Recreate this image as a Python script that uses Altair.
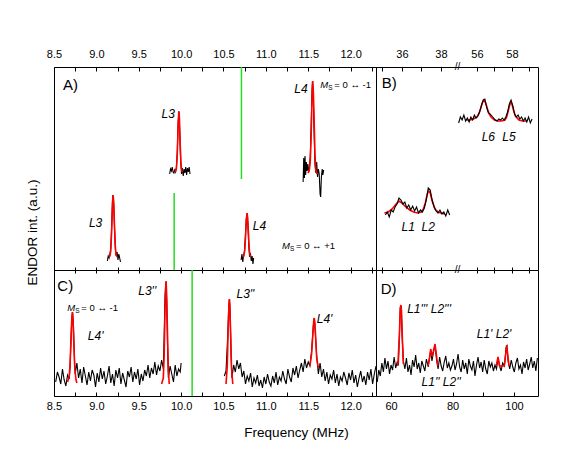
import altair as alt
import pandas as pd

FONT = "Liberation Sans"

# ---------------- data : (frequency MHz, ENDOR intensity a.u.) ----------------
# Panel A
A_BLACK = {
    "L3_low": [(9.13, 9), (9.14, 14), (9.15, 12), (9.16, 16), (9.17, 22), (9.18, 42), (9.19, 68), (9.197, 75),
               (9.205, 66), (9.215, 40), (9.225, 20), (9.235, 14), (9.245, 18), (9.255, 10), (9.265, 16),
               (9.275, 12), (9.285, 8)],
    "L3_up": [(9.865, 96), (9.875, 101), (9.885, 99), (9.895, 103), (9.905, 98), (9.915, 97), (9.925, 100),
              (9.935, 98), (9.945, 103), (9.955, 118), (9.965, 148), (9.975, 158), (9.985, 135), (9.995, 108),
              (10.005, 96), (10.015, 102), (10.025, 94), (10.035, 101), (10.045, 97), (10.055, 103),
              (10.065, 95), (10.075, 102), (10.085, 98), (10.095, 103), (10.105, 96)],
    "L4_low": [(10.708, 10), (10.718, 16), (10.728, 8), (10.738, 15), (10.748, 19), (10.758, 33), (10.768, 50),
               (10.778, 57), (10.788, 46), (10.798, 25), (10.808, 13), (10.818, 17), (10.828, 9), (10.838, 14),
               (10.848, 6), (10.856, 12)],
    "L4_up": [(11.44, 88), (11.447, 112), (11.455, 92), (11.462, 114), (11.47, 95), (11.478, 108), (11.487, 99),
              (11.496, 106), (11.505, 98), (11.515, 103), (11.525, 115), (11.535, 145), (11.545, 180),
              (11.552, 189), (11.56, 172), (11.57, 135), (11.58, 105), (11.59, 97), (11.60, 108), (11.61, 93),
              (11.62, 101), (11.63, 96), (11.64, 76), (11.647, 73), (11.655, 92), (11.665, 101), (11.673, 95),
              (11.682, 100)],
}
A_RED = {
    "L3_low": [(9.15, 13), (9.16, 14), (9.17, 19), (9.18, 38), (9.19, 66), (9.196, 75), (9.203, 70), (9.213, 46),
               (9.223, 24), (9.233, 15), (9.245, 13)],
    "L3_up": [(9.925, 98), (9.935, 99), (9.945, 102), (9.955, 116), (9.965, 145), (9.973, 159), (9.98, 152),
              (9.99, 124), (10.0, 104), (10.01, 99), (10.02, 98)],
    "L4_low": [(10.728, 13), (10.74, 14), (10.752, 20), (10.762, 36), (10.772, 52), (10.778, 57), (10.785, 53),
               (10.795, 36), (10.805, 20), (10.815, 14), (10.828, 13)],
    "L4_up": [(11.495, 97), (11.505, 98), (11.515, 101), (11.525, 110), (11.535, 135), (11.545, 172),
              (11.552, 189), (11.56, 180), (11.57, 150), (11.58, 115), (11.59, 100), (11.60, 97), (11.61, 96)],
}
A_GREEN = {"f": [10.712, 9.918], "y1": [91, 0], "y2": [203, 77]}
A_LABELS = {"f": [9.847, 11.414, 8.991, 10.924], "v": [156, 181, 47, 44], "t": ["L3", "L4", "L3", "L4"]}
A_LETTER = {"f": [8.606], "v": [185], "t": ["A)"]}
A_MS = {"f": [11.643, 11.19], "v": [185, 24], "t": ["= 0 \u2194 -1", "= 0 \u2194 +1"]}

# Panel B (broken axis 34.7-38.9 | 55-59.4)
B_BLACK = {
    "up": [(54.95, 147), (55.05, 153), (55.15, 150), (55.25, 155), (55.35, 149), (55.45, 152), (55.55, 148),
           (55.65, 153), (55.75, 150), (55.85, 155), (55.95, 152), (56.05, 154), (56.15, 158), (56.25, 164),
           (56.35, 170), (56.45, 171), (56.55, 163), (56.65, 157), (56.75, 156), (56.85, 154), (56.95, 152),
           (57.05, 150), (57.15, 149), (57.25, 151), (57.35, 150), (57.45, 152), (57.55, 150), (57.65, 153),
           (57.75, 158), (57.85, 166), (57.95, 170), (58.05, 164), (58.15, 156), (58.25, 153), (58.35, 155),
           (58.45, 151), (58.55, 153), (58.65, 149), (58.75, 152), (58.85, 148), (58.95, 153), (59.05, 147),
           (59.15, 151)],
    "low": [(35.15, 55), (35.25, 58), (35.35, 53), (35.45, 60), (35.55, 58), (35.65, 63), (35.75, 66),
            (35.85, 72), (35.95, 70), (36.05, 66), (36.15, 68), (36.25, 62), (36.35, 65), (36.45, 60),
            (36.55, 64), (36.65, 59), (36.75, 63), (36.85, 57), (36.95, 60), (37.05, 58), (37.15, 62),
            (37.25, 70), (37.35, 82), (37.45, 80), (37.55, 70), (37.65, 63), (37.75, 59), (37.85, 57),
            (37.95, 60), (38.05, 56), (38.15, 58), (38.25, 54), (38.35, 60), (38.45, 55)],
}
B_RED = {
    "up": [(55.4, 150), (55.6, 150), (55.8, 151), (56.0, 153), (56.1, 156), (56.2, 161), (56.3, 167), (56.4, 170),
           (56.5, 167), (56.6, 161), (56.7, 156), (56.8, 153), (57.0, 150), (57.2, 149), (57.4, 149), (57.6, 150),
           (57.7, 153), (57.8, 160), (57.9, 167), (58.0, 166), (58.1, 159), (58.2, 154), (58.4, 150), (58.6, 149),
           (58.8, 149)],
    "low": [(35.1, 57), (35.3, 58), (35.5, 61), (35.7, 66), (35.85, 69), (36.0, 67), (36.2, 63), (36.4, 60),
            (36.6, 58), (36.8, 57), (37.0, 58), (37.1, 61), (37.2, 67), (37.3, 76), (37.38, 79), (37.45, 77),
            (37.55, 69), (37.7, 61), (37.85, 58), (38.0, 57), (38.2, 56)],
}
B_LABELS = {"f": [56.65, 57.83, 36.32, 37.35], "v": [133, 133, 43, 43], "t": ["L6", "L5", "L1", "L2"]}
B_LETTER = {"f": [34.96], "v": [187], "t": ["B)"]}
B_BREAK = {"f": [38.85, 38.85], "v": [203, 0], "t": ["//", "//"]}

# Panel C
C_BLACK = {
    "s1": [(8.52, 14), (8.54, 24), (8.56, 19), (8.58, 12), (8.60, 27), (8.62, 16), (8.64, 10), (8.66, 21),
           (8.68, 17), (8.69, 30), (8.70, 55), (8.71, 78), (8.72, 84), (8.73, 70), (8.74, 40), (8.75, 22),
           (8.77, 33), (8.79, 18), (8.81, 27), (8.83, 13), (8.85, 29), (8.87, 20), (8.89, 11), (8.91, 24),
           (8.93, 15), (8.95, 26), (8.97, 21), (8.99, 9), (9.01, 23), (9.03, 14), (9.05, 28), (9.07, 17),
           (9.09, 25), (9.11, 12), (9.13, 20), (9.15, 30), (9.17, 13), (9.19, 22), (9.21, 10), (9.23, 26),
           (9.25, 18), (9.27, 28), (9.29, 12), (9.31, 23), (9.33, 16), (9.35, 9), (9.37, 25), (9.39, 19),
           (9.41, 29), (9.43, 14), (9.45, 24), (9.47, 17), (9.49, 27), (9.51, 11), (9.53, 22), (9.55, 15),
           (9.57, 26), (9.59, 20), (9.61, 31), (9.63, 18), (9.65, 28), (9.67, 22), (9.69, 34), (9.71, 21),
           (9.73, 30), (9.75, 25), (9.77, 36), (9.79, 27), (9.80, 60), (9.81, 100), (9.82, 114), (9.83, 95),
           (9.84, 50), (9.85, 18), (9.87, 30), (9.89, 22), (9.91, 14), (9.93, 31), (9.95, 20), (9.97, 27),
           (9.99, 24), (10.00, 33)],
    "s2": [(10.51, 20), (10.53, 25), (10.55, 60), (10.56, 85), (10.57, 97), (10.58, 80), (10.59, 40),
           (10.60, 18), (10.62, 31), (10.64, 24), (10.66, 36), (10.68, 27), (10.70, 33), (10.72, 19), (10.74, 25),
           (10.76, 12), (10.78, 20), (10.80, 15), (10.82, 23), (10.84, 9), (10.86, 18), (10.88, 13), (10.90, 21),
           (10.92, 10), (10.94, 16), (10.96, 8), (10.98, 19), (11.00, 12), (11.02, 22), (11.04, 14), (11.06, 10),
           (11.08, 20), (11.10, 13), (11.12, 24), (11.14, 11), (11.16, 19), (11.18, 15), (11.20, 25), (11.22, 17),
           (11.24, 12), (11.26, 27), (11.28, 19), (11.30, 14), (11.32, 28), (11.34, 21), (11.36, 30), (11.38, 18),
           (11.40, 26), (11.42, 33), (11.44, 24), (11.46, 37), (11.48, 28), (11.50, 34), (11.52, 30),
           (11.54, 45), (11.56, 70), (11.57, 78), (11.58, 68), (11.60, 40), (11.62, 22), (11.64, 33),
           (11.66, 19), (11.68, 27), (11.70, 15), (11.72, 24), (11.74, 12), (11.76, 21), (11.78, 17),
           (11.80, 26), (11.82, 13), (11.84, 22), (11.86, 10), (11.88, 19), (11.90, 15), (11.92, 24),
           (11.94, 18), (11.96, 11), (11.98, 23), (12.00, 16), (12.02, 26), (12.04, 13), (12.06, 21),
           (12.08, 9), (12.10, 18), (12.12, 25), (12.14, 14), (12.16, 20), (12.18, 11), (12.20, 24),
           (12.22, 16), (12.24, 27), (12.26, 12), (12.28, 22), (12.30, 30)],
}
C_RED = {
    "a": [(8.66, 14), (8.68, 20), (8.69, 32), (8.70, 55), (8.71, 77), (8.716, 84), (8.725, 75), (8.735, 50),
          (8.745, 28), (8.76, 16), (8.77, 13)],
    "b": [(9.77, 12), (9.79, 18), (9.80, 40), (9.81, 85), (9.82, 113), (9.823, 115), (9.83, 100), (9.84, 60),
          (9.85, 25), (9.86, 12)],
    "c": [(10.53, 12), (10.545, 30), (10.555, 65), (10.565, 92), (10.57, 97), (10.575, 92), (10.585, 60),
          (10.595, 28), (10.61, 12)],
    "d": [(11.52, 30), (11.54, 42), (11.555, 62), (11.565, 75), (11.572, 78), (11.58, 72), (11.59, 55),
          (11.60, 38), (11.62, 28)],
}
C_GREEN = {"f": [10.13], "y1": [0], "y2": [126]}
C_LABELS = {"f": [8.991, 9.60, 10.759, 11.693], "v": [60, 105, 102, 77], "t": ["L4'", "L3''", "L3''", "L4'"]}
C_LETTER = {"f": [8.539], "v": [110], "t": ["C)"]}
C_MS = {"f": [8.657], "v": [88], "t": ["= 0 \u2194 -1"]}

# Panel D
D_BLACK = {
    "s": [(55.5, 14), (56.0, 26), (56.5, 20), (57.0, 33), (57.5, 24), (58.0, 38), (58.5, 27), (59.0, 35),
          (59.5, 22), (60.0, 31), (60.5, 26), (61.0, 39), (61.5, 28), (62.0, 34), (62.4, 31), (62.7, 60),
          (63.0, 88), (63.3, 90), (63.6, 60), (64.0, 35), (64.5, 27), (65.0, 38), (65.5, 24), (66.0, 31),
          (66.5, 21), (67.0, 36), (67.5, 29), (68.0, 41), (68.5, 27), (69.0, 33), (69.5, 23), (70.0, 35),
          (70.5, 30), (71.0, 25), (71.5, 37), (72.1, 29), (72.6, 40), (72.9, 46), (73.3, 35), (73.7, 42),
          (74.3, 51), (74.8, 36), (75.3, 27), (75.8, 39), (76.3, 30), (76.8, 25), (77.3, 34), (77.8, 40),
          (78.3, 28), (78.8, 33), (79.3, 26), (79.8, 30), (80.3, 37), (80.8, 26), (81.3, 32), (81.8, 42),
          (82.3, 29), (82.8, 24), (83.3, 36), (83.8, 27), (84.3, 33), (84.8, 22), (85.3, 37), (85.8, 30),
          (86.3, 26), (86.8, 35), (87.3, 20), (87.8, 31), (88.3, 39), (88.8, 28), (89.3, 34), (89.8, 24),
          (90.3, 36), (90.8, 27), (91.3, 22), (91.8, 35), (92.3, 29), (92.8, 33), (93.3, 25), (93.8, 31),
          (94.3, 27), (94.8, 38), (95.3, 30), (95.8, 25), (96.3, 33), (96.9, 30), (97.4, 48), (97.7, 50),
          (98.1, 34), (98.6, 27), (99.1, 36), (99.6, 29), (100.1, 24), (100.6, 33), (101.1, 38), (101.6, 27),
          (102.1, 31), (102.6, 22), (103.1, 34), (103.6, 28), (104.1, 37), (104.6, 26), (105.1, 32),
          (105.6, 39), (106.1, 28), (106.6, 35), (107.1, 25), (107.6, 38)],
}
D_RED = {
    "a": [(62.2, 30), (62.7, 60), (63.0, 88), (63.2, 91), (63.4, 85), (63.7, 55), (64.0, 32)],
    "b": [(72.0, 30), (72.5, 38), (72.9, 47), (73.3, 40), (73.7, 44), (74.3, 52), (74.8, 40), (75.2, 30)],
    "c": [(94.2, 30), (94.8, 39), (95.3, 30), (96.8, 30), (97.3, 42), (97.6, 51), (98.0, 40), (98.4, 30)],
}
D_LABELS = {"f": [72.36, 76.3, 93.5], "v": [87, 14, 62], "t": ["L1''' L2'''", "L1'' L2''", "L1' L2'"]}
D_LETTER = {"f": [56.65], "v": [107], "t": ["D)"]}

# axis ticks
A_TICKS = [8.5, 8.75, 9.0, 9.25, 9.5, 9.75, 10.0, 10.25, 10.5, 10.75, 11.0, 11.25, 11.5, 11.75, 12.0, 12.25]
B_TICKS = [35, 36, 37, 38, 56, 57, 58, 59]
B_TICK_LABELS = [36, 38, 56, 58]
D_TICKS = [60, 70, 80, 90, 100]

# ---------------- helpers ----------------
U_EXPR = "datum.f < 45 ? datum.f : 39.85 + (datum.f - 56) * 0.897"


def to_u(f):
    return f if f < 45 else 39.85 + (f - 56) * 0.897


def lines_df(d):
    rows = []
    for seg, pts in d.items():
        for f, v in pts:
            rows.append({"seg": seg, "f": f, "v": v})
    return pd.DataFrame(rows)


AX_BASE = dict(domain=False, grid=False, tickColor="black", tickWidth=1, labelFont=FONT, labelFontSize=11,
               labelColor="black", labelFlush=False, labelOverlap=False)


def ax_labels(orient, values, expr, pad, **kw):
    return alt.Axis(orient=orient, values=values, labelExpr=expr, offset=-4, tickSize=4, labelPadding=pad,
                    **AX_BASE, **kw)


def ax_straddle(values):
    return alt.Axis(orient="bottom", values=values, labels=False, offset=-3, tickSize=6, **AX_BASE)


A_EXPR = "datum.value % 0.5 == 0 ? format(datum.value, '.1f') : ''"
B_EXPR = " : ".join(f"abs(datum.value - {to_u(f):.4f}) < 0.01 ? '{f}'" for f in B_TICK_LABELS) + " : ''"
D_EXPR = "datum.value % 20 == 0 ? datum.label : ''"
B_TICK_U = [round(to_u(f), 4) for f in B_TICKS]


def panel(black, red, labels, letter, xdom, ydom, w, h, x_top=None, x_bot=None, x_title=None,
          y_title=None, green=None, ms=None, breaks=None, broken=False, red_first=False):
    xs = alt.Scale(domain=xdom, nice=False, zero=False)
    ys = alt.Scale(domain=ydom, nice=False, zero=False)
    xf = "u:Q" if broken else "f:Q"

    def prep(df):
        c = alt.Chart(pd.DataFrame(df))
        if broken:
            c = c.transform_calculate(u=U_EXPR)
        return c

    def X(axis=None, title=None):
        if axis is None:
            return alt.X(xf, scale=xs, axis=None)
        return alt.X(xf, scale=xs, axis=axis, title=title)

    def Y(axis=None, title=None, field="v:Q"):
        if axis is None:
            return alt.Y(field, scale=ys, axis=None)
        return alt.Y(field, scale=ys, axis=axis, title=title)

    if y_title:
        yax = alt.Axis(orient="left", ticks=False, labels=False, domain=False, grid=False, titleX=-15,
                       titleY=165, titleFont=FONT, titleFontSize=13.5, titleFontWeight="normal",
                       titleColor="black")
    else:
        yax = None

    blk = prep(lines_df(black)).mark_line(color="black", strokeWidth=1.1, clip=True).encode(
        x=X(x_top), y=Y(yax, y_title), detail="seg:N")
    rd = prep(lines_df(red)).mark_line(color="#ff0000", strokeWidth=1.6, clip=True).encode(
        x=X(x_bot, x_title), y=Y(), detail="seg:N")
    layers = [rd, blk] if red_first else [blk, rd]
    if green is not None:
        layers.append(prep(green).mark_rule(color="#22dd22", strokeWidth=1.5).encode(
            x=X(), y=Y(field="y1:Q"), y2="y2:Q"))
    layers.append(prep(labels).mark_text(font=FONT, fontStyle="italic", fontSize=12, color="black",
                                         baseline="middle").encode(x=X(), y=Y(), text="t:N"))
    layers.append(prep(letter).mark_text(font=FONT, fontSize=15, color="black", align="left",
                                         baseline="middle").encode(x=X(), y=Y(), text="t:N"))
    if ms is not None:
        layers.append(prep(ms).mark_text(text="M", font=FONT, fontStyle="italic", fontSize=9.5, color="black",
                                         align="left", baseline="middle").encode(x=X(), y=Y()))
        layers.append(prep(ms).mark_text(text="S", font=FONT, fontSize=6.5, color="black", align="left",
                                         baseline="middle", dx=8, dy=3).encode(x=X(), y=Y()))
        layers.append(prep(ms).mark_text(font=FONT, fontSize=9.5, color="black", align="left",
                                         baseline="middle", dx=14).encode(x=X(), y=Y(), text="t:N"))
    if breaks is not None:
        layers.append(prep(breaks).mark_text(font=FONT, fontSize=10, color="black", baseline="middle").encode(
            x=X(), y=Y(), text="t:N"))
    return alt.layer(*layers).resolve_axis(x="independent", y="independent").properties(width=w, height=h)


WA, WB, HT, HB = 322, 162, 203, 126

pA = panel(A_BLACK, A_RED, A_LABELS, A_LETTER, [8.5, 12.3], [0, HT], WA, HT,
           x_top=ax_labels("top", A_TICKS, A_EXPR, 8), x_bot=ax_straddle(A_TICKS),
           y_title="ENDOR int. (a.u.)", green=A_GREEN, ms=A_MS)
pB = panel(B_BLACK, B_RED, B_LABELS, B_LETTER, [34.67, 42.98], [0, HT], WB, HT,
           x_top=ax_labels("top", B_TICK_U, B_EXPR, 8), x_bot=ax_straddle(B_TICK_U),
           breaks=B_BREAK, broken=True, red_first=True)
pC = panel(C_BLACK, C_RED, C_LABELS, C_LETTER, [8.5, 12.3], [0, HB], WA, HB,
           x_bot=ax_labels("bottom", A_TICKS, A_EXPR, 4, titleX=242, titlePadding=14, titleFont=FONT,
                           titleFontSize=13.5, titleFontWeight="normal", titleColor="black"),
           x_title="Frequency (MHz)", green=C_GREEN, ms=C_MS)
pD = panel(D_BLACK, D_RED, D_LABELS, D_LETTER, [55.1, 107.8], [0, HB], WB, HB,
           x_top=ax_labels("bottom", D_TICKS, D_EXPR, 4))

chart = alt.concat(pA, pB, pC, pD, columns=2, spacing=0, bounds="flush", align="each").configure_view(
    stroke="black", strokeWidth=1).properties(
    padding={"left": 16, "top": 39, "right": 5, "bottom": 5}, background="white")

chart.save("out.html", embed_options={"renderer": "svg", "actions": False})
